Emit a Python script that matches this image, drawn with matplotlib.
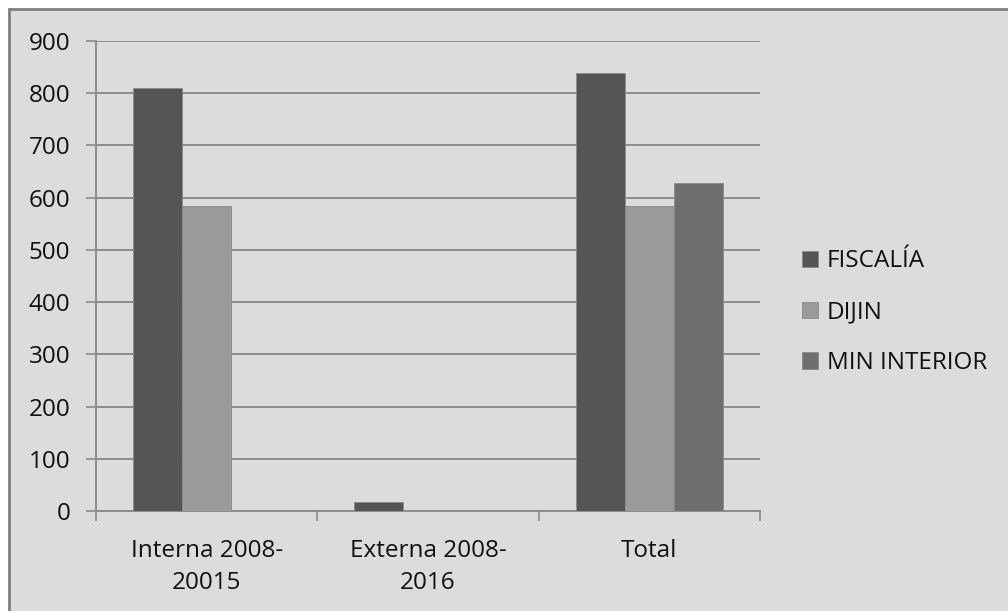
import matplotlib.pyplot as plt
import matplotlib.patches as mpatches
import numpy as np

# Datos
categorias = ['Interna 2008-\n20015', 'Externa 2008-\n2016', 'Total']
series = ['FISCALÍA', 'DIJIN', 'MIN INTERIOR']
fiscalia = [810, 18, 839]
dijin = [585, 0, 585]
min_interior = [0, 0, 629]
colores = ['#555555', '#9a9a9a', '#6e6e6e']

plt.rcParams['font.family'] = ['Open Sans', 'DejaVu Sans']

fig = plt.figure(figsize=(10.08, 6.11), dpi=100)
fig.patch.set_facecolor('white')

# Fondo gris con borde (recortado a la derecha y abajo)
fondo = mpatches.Rectangle((9 / 1008, -0.05), 1.1, 1 - 9 / 611 + 0.05,
                           transform=fig.transFigure, facecolor='#dcdcdc',
                           edgecolor='#7f7f7f', linewidth=2, zorder=0)
fig.add_artist(fondo)

ax = fig.add_axes([96 / 1008, 1 - 511 / 611, (760 - 96) / 1008, (511 - 41) / 611])
ax.set_facecolor('none')
ax.set_zorder(2)

x = np.arange(len(categorias))
ancho = 1 / 4.5
valores = [fiscalia, dijin, min_interior]
for i, (nombre, vals) in enumerate(zip(series, valores)):
    ax.bar(x + (i - 1) * ancho, vals, ancho, color=colores[i], label=nombre,
           edgecolor='#8a8a8a', linewidth=0.6, zorder=3)

ax.set_xlim(-0.5, 2.5)
ax.set_ylim(0, 900)
ax.set_yticks(range(0, 901, 100))
ax.grid(axis='y', color='#8c8c8c', linewidth=1.4, zorder=1)

ax.set_xticks(x)
ax.set_xticklabels(categorias, fontsize=17.5, color='#111111', linespacing=1.45)
ax.set_xticks([-0.5, 0.5, 1.5, 2.5], minor=True)
ax.tick_params(axis='x', which='major', length=0, pad=20)
ax.tick_params(axis='x', which='minor', length=7, color='#8c8c8c', width=1.2)
ax.tick_params(axis='y', length=7.5, color='#8c8c8c', width=1.2, labelsize=17.5,
               labelcolor='#111111', pad=11)

for lado in ['top', 'right']:
    ax.spines[lado].set_visible(False)
for lado in ['left', 'bottom']:
    ax.spines[lado].set_color('#8c8c8c')
    ax.spines[lado].set_linewidth(1.4)

ax.legend(loc='center left', bbox_to_anchor=(1.031, 0.423), frameon=False,
          fontsize=17.5, handlelength=0.65, handleheight=0.65, handletextpad=0.35,
          labelspacing=1.1, labelcolor='#111111')

fig.savefig('out.png', dpi=100)
